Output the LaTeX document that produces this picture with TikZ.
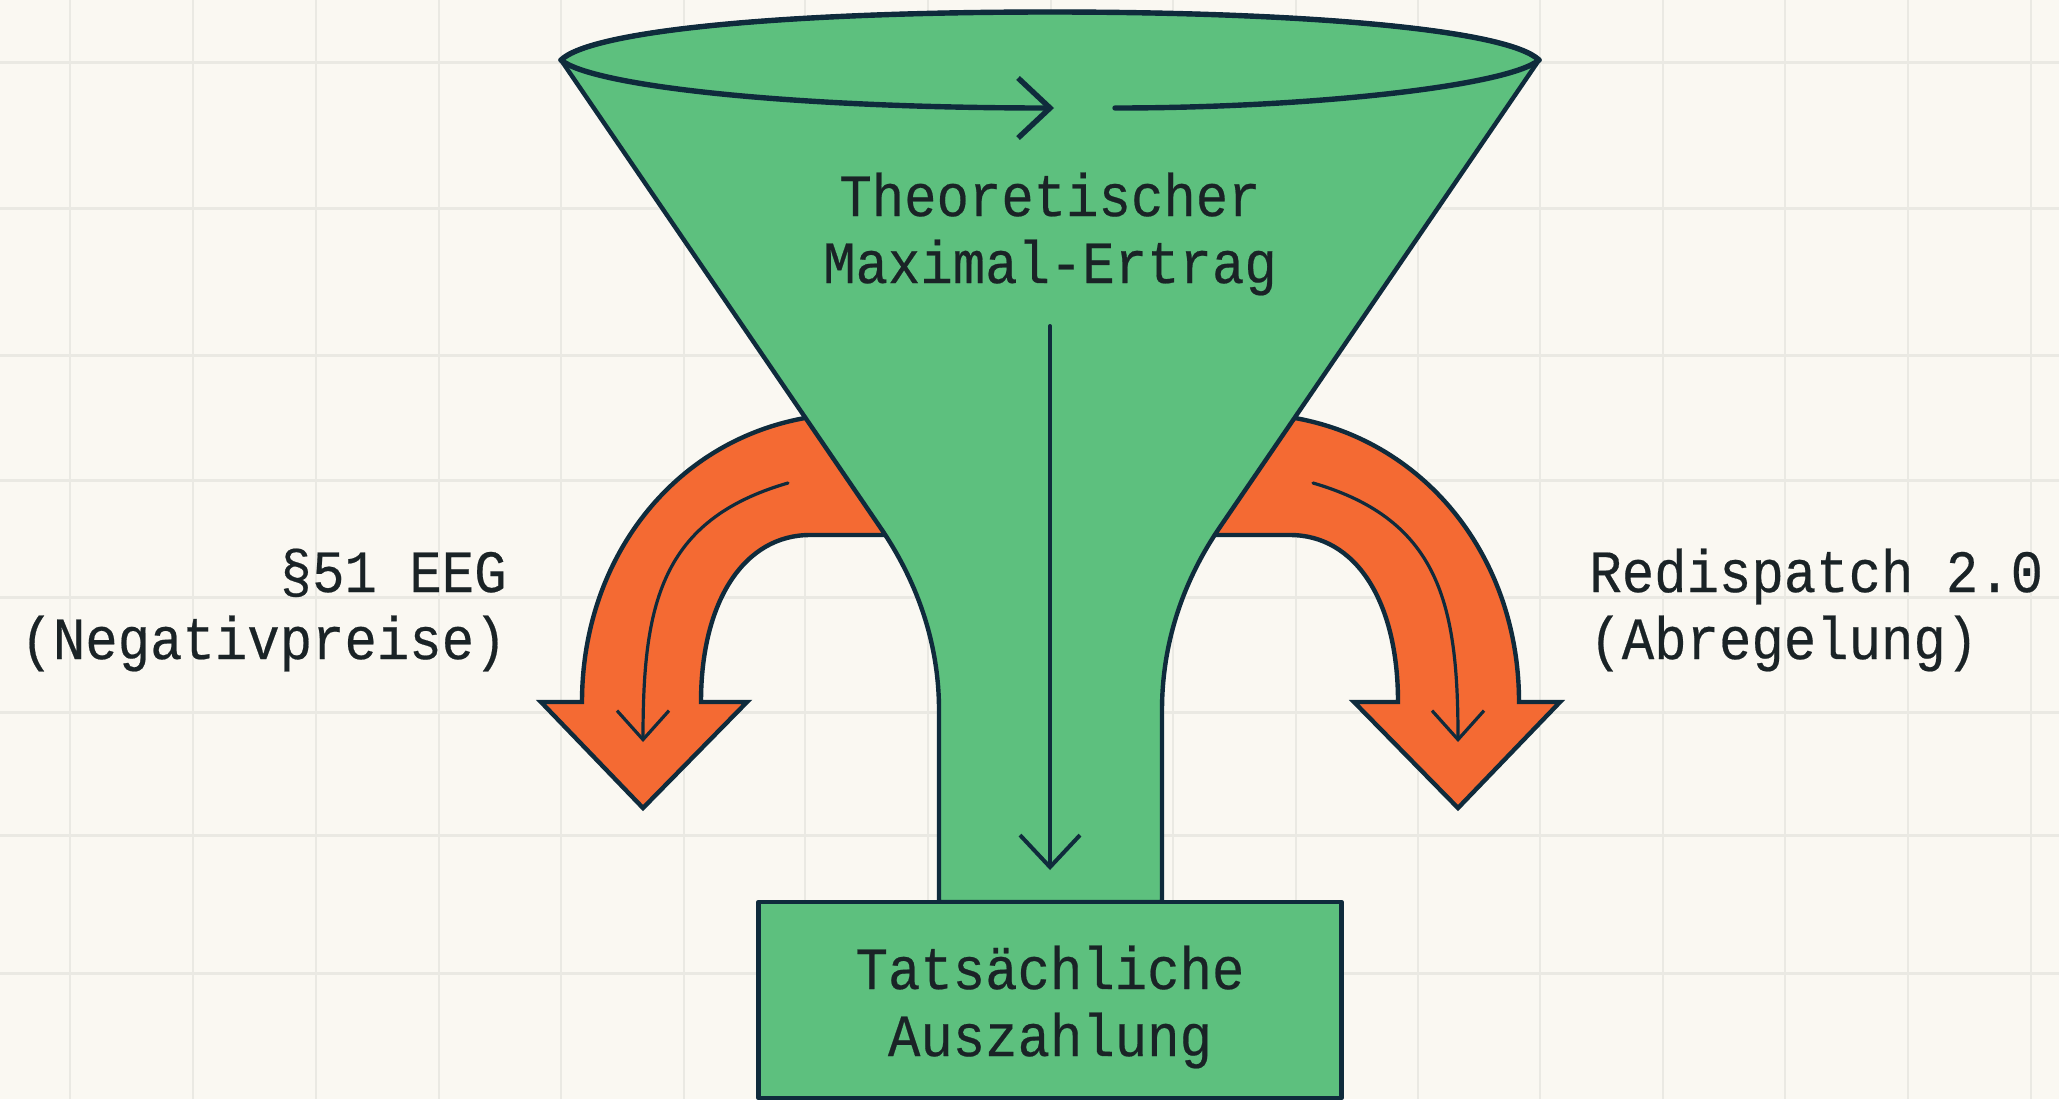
\documentclass[tikz,border=0pt]{standalone}
\usepackage{fontspec}
\setmainfont[FakeStretch=0.9,FakeBold=0.35]{Liberation Mono}
\usetikzlibrary{arrows.meta}
\definecolor{paper}{HTML}{FAF8F2}
\definecolor{gridc}{HTML}{EAE9E3}
\definecolor{funnelc}{HTML}{5DC07E}
\definecolor{lossc}{HTML}{F46A33}
\definecolor{inkc}{HTML}{0F2B3C}
\definecolor{textc}{HTML}{1A2326}
\tikzset{
  x=0.5pt,y=-0.5pt,
  gridv/.style={gridc,line width=1pt},
  gridh/.style={gridc,line width=1.5pt},
  body/.style={draw=inkc,fill=funnelc,line width=2.2pt,line join=round},
  loss/.style={draw=inkc,line width=2.2pt,line join=miter},
  rimline/.style={draw=inkc,line width=2.7pt,line cap=round},
  flow/.style={draw=inkc,line width=2pt,line cap=round},
  flowthin/.style={draw=inkc,line width=1.6pt,line cap=round},
  bigbarb/.style={-{Straight Barb[length=16pt,width=30pt]}},
  smallbarb/.style={-{Straight Barb[length=14.5pt,width=26pt]}},
  label/.style={font=\fontsize{30}{33.5}\selectfont,text=textc,inner sep=0pt},
}
\begin{document}
\begin{tikzpicture}
\useasboundingbox (0,0) rectangle (2059,1099);
\fill[paper] (0,0) rectangle (2059,1099);
% grid
\foreach \gx in {70,193,316,439,561,684,805,928,1051,1173,1296,1418,1540,1663,1785,1908,2031}
  \draw[gridv] (\gx,0) -- (\gx,1099);
\foreach \gy in {62,208,355,480,597,712,835,973}
  \draw[gridh] (0,\gy) -- (2059,\gy);
% key points
\coordinate (rimL) at (561,60);
\coordinate (rimR) at (1539,60);
\coordinate (rimT) at (1050,12);
\coordinate (neckL) at (880,527);
\coordinate (neckR) at (1220,527);
\coordinate (stemL) at (939,710);
\coordinate (stemR) at (1162,710);
\coordinate (footL) at (939,902);
\coordinate (footR) at (1162,902);
% left loss arrow
\fill[lossc] (830,418) -- (805,418) .. controls (672,442) and (582,560) .. (582,702)
  -- (541,702) -- (643,808) -- (747,702) -- (701,702)
  .. controls (701,600) and (745,535) .. (810,535) -- (900,535) -- cycle;
\draw[loss] (830,412) -- (805,418) .. controls (672,442) and (582,560) .. (582,702)
  -- (541,702) -- (643,808) -- (747,702) -- (701,702)
  .. controls (701,600) and (745,535) .. (810,535) -- (900,535);
% right loss arrow
\fill[lossc] (1270,418) -- (1295,418) .. controls (1428,442) and (1519,560) .. (1519,702)
  -- (1560,702) -- (1458,808) -- (1354,702) -- (1398,702)
  .. controls (1398,600) and (1355,535) .. (1290,535) -- (1200,535) -- cycle;
\draw[loss] (1270,412) -- (1295,418) .. controls (1428,442) and (1519,560) .. (1519,702)
  -- (1560,702) -- (1458,808) -- (1354,702) -- (1398,702)
  .. controls (1398,600) and (1355,535) .. (1290,535) -- (1200,535);
% funnel
\draw[body] (rimL) .. controls (592,30) and (790,12) .. (rimT)
  .. controls (1310,12) and (1508,30) .. (rimR)
  -- (neckR) .. controls (1185,578) and (1162,640) .. (stemR) -- (footR)
  -- (footL) -- (stemL) .. controls (939,640) and (915,578) .. (neckL) -- cycle;
\draw[rimline] (rimL) .. controls (592,30) and (790,12) .. (rimT)
  .. controls (1310,12) and (1508,30) .. (rimR);
% rim front
\coordinate (ringA) at (1054,108);
\coordinate (ringB) at (1115,108);
\draw[rimline,bigbarb] (rimL) .. controls (592,86) and (790,108) .. (ringA);
\draw[rimline] (ringB) .. controls (1310,108) and (1508,86) .. (rimR);
% box
\node[body,draw,minimum width=291.5pt,minimum height=98pt,inner sep=0pt] (result) at (1050,1000) {};
% inner flows
\coordinate (flowS) at (1050,326);
\draw[flow,bigbarb] (flowS) -- (1050,870);
\coordinate (lossLs) at (788,483);
\coordinate (lossLe) at (643,742);
\draw[flowthin,smallbarb] (lossLs) .. controls (660,520) and (643,605) .. (lossLe);
\coordinate (lossRs) at (1313,483);
\coordinate (lossRe) at (1458,742);
\draw[flowthin,smallbarb] (lossRs) .. controls (1440,520) and (1458,605) .. (lossRe);
% labels
\node[label,align=center] (topl) at (1050,234) {Theoretischer\\Maximal-Ertrag};
\node[label,align=center] (botl) at (1050,1007) {Tatsächliche\\Auszahlung};
\node[label,align=right,anchor=east] (negl) at (507,610) {§51 EEG\\(Negativpreise)};
\node[label,align=left,anchor=west] (redl) at (1589,610) {Redispatch 2.0\\(Abregelung)};
\end{tikzpicture}
\end{document}
